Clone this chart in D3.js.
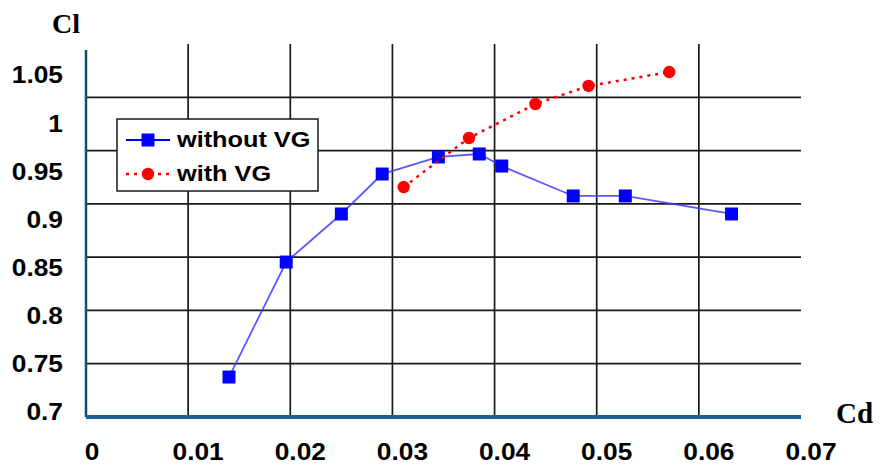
<!DOCTYPE html>
<html>
<head>
<meta charset="utf-8">
<script src="https://cdn.jsdelivr.net/npm/d3@7"></script>
<style>
  html, body { margin: 0; padding: 0; background: #fff; }
  svg { display: block; }
</style>
</head>
<body>
<svg id="chart" width="880" height="473"></svg>
<script>
// Drag polar: lift coefficient vs drag coefficient, with and without vortex generators
const withoutVG_Cd = [0.0140, 0.0196, 0.0250, 0.0290, 0.0345, 0.0385, 0.0407, 0.0477, 0.0528, 0.0632];
const withoutVG_Cl = [0.7375, 0.8454, 0.8905, 0.9280, 0.9440, 0.9468, 0.9355, 0.9074, 0.9074, 0.8905];
const withVG_Cd = [0.0311, 0.0375, 0.0440, 0.0492, 0.0571];
const withVG_Cl = [0.9158, 0.9618, 0.9937, 1.0106, 1.0237];
const xTicks = [0, 0.01, 0.02, 0.03, 0.04, 0.05, 0.06, 0.07];
const yTicks = [0.7, 0.75, 0.8, 0.85, 0.9, 0.95, 1, 1.05];
const seriesNames = ["without VG", "with VG"];

const svg = d3.select("#chart");
const plot = { left: 86, right: 801, top: 44, bottom: 417 };

const x = d3.scaleLinear().domain([0, 0.07]).range([plot.left, plot.right]);
const y = d3.scaleLinear().domain([0.7, 1.05]).range([plot.bottom, plot.top]);
// tick labels on the value axis sit on a slightly tighter spacing than the grid
const yLabel = d3.scaleLinear().domain([0.7, 1.05]).range([412, 75]);

// grid
const grid = svg.append("g");
grid.selectAll("line.v").data(xTicks.filter(t => t > 0 && t < 0.07)).join("line")
  .attr("x1", d => x(d)).attr("x2", d => x(d))
  .attr("y1", plot.top).attr("y2", plot.bottom)
  .attr("stroke", "#1a1a1a").attr("stroke-width", 1.7);
grid.selectAll("line.h").data(yTicks.filter(t => t > 0.7 && t < 1.05)).join("line")
  .attr("x1", plot.left).attr("x2", plot.right)
  .attr("y1", d => y(d)).attr("y2", d => y(d))
  .attr("stroke", "#1a1a1a").attr("stroke-width", 1.7);

// axes lines
svg.append("line")
  .attr("x1", plot.left).attr("x2", plot.left)
  .attr("y1", 50).attr("y2", plot.bottom)
  .attr("stroke", "#0d4f70").attr("stroke-width", 2.5);
svg.append("line")
  .attr("x1", plot.left).attr("x2", plot.right)
  .attr("y1", plot.bottom).attr("y2", plot.bottom)
  .attr("stroke", "#1e5c96").attr("stroke-width", 4);

// tick labels
const fontSans = "'Liberation Sans', Arial, sans-serif";
svg.append("g").selectAll("text").data(yTicks).join("text")
  .attr("transform", d => `translate(63,${yLabel(d)}) scale(1.12,1)`)
  .attr("text-anchor", "end").attr("dominant-baseline", "central")
  .style("font-family", fontSans).style("font-weight", "bold").style("font-size", "23.5px")
  .attr("fill", "#000")
  .text(d => d3.format("")(d));
svg.append("g").selectAll("text").data(xTicks).join("text")
  .attr("transform", d => `translate(${x(d) + (d === 0 ? 6 : 10)},460) scale(1.12,1)`)
  .attr("text-anchor", "middle")
  .style("font-family", fontSans).style("font-weight", "bold").style("font-size", "23.5px")
  .attr("fill", "#000")
  .text(d => d3.format("")(d));

// axis titles
const fontSerif = "'Liberation Serif', 'Times New Roman', serif";
svg.append("text").attr("x", 52).attr("y", 33)
  .style("font-family", fontSerif).style("font-weight", "bold").style("font-size", "28px")
  .text("Cl");
svg.append("text").attr("x", 836).attr("y", 423)
  .style("font-family", fontSerif).style("font-weight", "bold").style("font-size", "29px")
  .text("Cd");

// series
const blueData = withoutVG_Cd.map((c, i) => [c, withoutVG_Cl[i]]);
const redData = withVG_Cd.map((c, i) => [c, withVG_Cl[i]]);
const line = d3.line().x(d => x(d[0])).y(d => y(d[1]));

svg.append("path").datum(blueData).attr("d", line)
  .attr("fill", "none").attr("stroke", "#3c3cff").attr("stroke-width", 1.8).attr("stroke-opacity", 0.85);
svg.append("g").selectAll("rect").data(blueData).join("rect")
  .attr("x", d => x(d[0]) - 6.5).attr("y", d => y(d[1]) - 6.5)
  .attr("width", 13).attr("height", 13).attr("fill", "#0000ff");

svg.append("path").datum(redData).attr("d", line)
  .attr("fill", "none").attr("stroke", "#ff0000").attr("stroke-width", 2.5)
  .attr("stroke-dasharray", "3,5");
svg.append("g").selectAll("circle").data(redData).join("circle")
  .attr("cx", d => x(d[0])).attr("cy", d => y(d[1])).attr("r", 6.2)
  .attr("fill", "#ff0000");

// legend
const legend = svg.append("g");
legend.append("rect").attr("x", 117).attr("y", 119).attr("width", 201).attr("height", 72)
  .attr("fill", "#fff").attr("stroke", "#1a1a1a").attr("stroke-width", 1.5);
const rows = [
  { name: seriesNames[0], y: 140, color: "#0000ff", dash: null, shape: "square", w: 1.8 },
  { name: seriesNames[1], y: 174, color: "#ff0000", dash: "3,5", shape: "circle", w: 2.5 }
];
rows.forEach(r => {
  legend.append("line").attr("x1", 126).attr("x2", 170).attr("y1", r.y).attr("y2", r.y)
    .attr("stroke", r.color).attr("stroke-width", r.w)
    .attr("stroke-dasharray", r.dash);
  if (r.shape === "square") {
    legend.append("rect").attr("x", 141.5).attr("y", r.y - 6.5).attr("width", 13).attr("height", 13).attr("fill", r.color);
  } else {
    legend.append("circle").attr("cx", 148).attr("cy", r.y).attr("r", 6.2).attr("fill", r.color);
  }
  legend.append("text").attr("transform", `translate(177,${r.y}) scale(1.15,1)`)
    .attr("dominant-baseline", "central")
    .style("font-family", fontSans).style("font-weight", "bold").style("font-size", "22px")
    .text(r.name);
});
</script>
</body>
</html>
